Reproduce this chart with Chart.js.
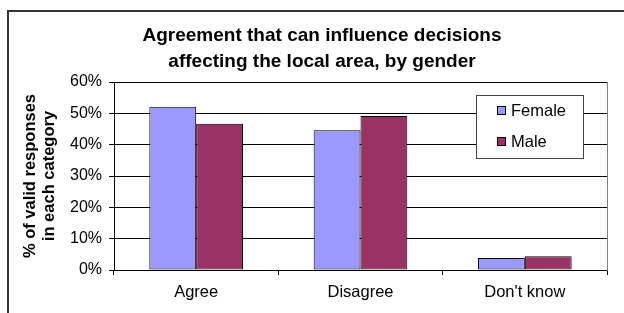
<!DOCTYPE html>
<html>
<head>
<meta charset="utf-8">
<script src="https://cdn.jsdelivr.net/npm/chart.js@4/dist/chart.umd.min.js"></script>
<style>
html,body{margin:0;padding:0;background:#fff;}
canvas{display:block;}
</style>
</head>
<body>
<canvas id="c" width="624" height="313"></canvas>
<script>
const categories = ["Agree", "Disagree", "Don't know"];
const femaleValues = [52.1, 44.6, 3.8];
const maleValues = [46.7, 49.2, 4.4];
const seriesNames = ["Female", "Male"];
const yTicks = [0, 10, 20, 30, 40, 50, 60];
const chartTitle = ["Agreement that can influence decisions", "affecting the local area, by gender"];
const yTitle = ["% of valid responses", "in each category"];

const FONT = "'Liberation Sans', Arial, sans-serif";

const framePlugin = {
  id: 'frame',
  beforeDraw(chart) {
    const ctx = chart.ctx;
    ctx.save();
    ctx.fillStyle = '#fff';
    ctx.fillRect(0, 0, chart.width, chart.height);
    ctx.strokeStyle = '#333';
    ctx.lineWidth = 2;
    ctx.beginPath();
    ctx.moveTo(8, chart.height + 5);
    ctx.lineTo(8, 11);
    ctx.lineTo(chart.width + 5, 11);
    ctx.stroke();
    ctx.restore();
  }
};

const legendPlugin = {
  id: 'customLegend',
  afterDraw(chart) {
    const ctx = chart.ctx;
    const x = 476.5, y = 95.5, w = 107, h = 63;
    ctx.save();
    ctx.fillStyle = '#fff';
    ctx.fillRect(x, y, w, h);
    ctx.strokeStyle = '#444';
    ctx.lineWidth = 1;
    ctx.strokeRect(x, y, w, h);
    ctx.font = '16.5px ' + FONT;
    ctx.textBaseline = 'middle';
    ctx.textAlign = 'left';
    chart.data.datasets.forEach((ds, i) => {
      const cy = 111 + i * 31;
      ctx.fillStyle = ds.backgroundColor;
      ctx.fillRect(497.5, cy - 4.5, 8, 8);
      ctx.strokeStyle = '#000';
      ctx.strokeRect(497.5, cy - 4.5, 8, 8);
      ctx.fillStyle = '#000';
      ctx.fillText(ds.label, 511, cy);
    });
    ctx.restore();
  }
};

new Chart(document.getElementById('c'), {
  type: 'bar',
  data: {
    labels: categories,
    datasets: [
      { label: seriesNames[0], data: femaleValues, backgroundColor: '#9999FF', borderColor: '#000', borderWidth: 1, borderSkipped: false },
      { label: seriesNames[1], data: maleValues, backgroundColor: '#993366', borderColor: '#000', borderWidth: 1, borderSkipped: false }
    ]
  },
  options: {
    responsive: false,
    animation: false,
    devicePixelRatio: 1,
    layout: { padding: { left: 20, right: 0, top: 0, bottom: 0 } },
    datasets: { bar: { categoryPercentage: 0.57, barPercentage: 1.0 } },
    plugins: {
      legend: { display: false },
      tooltip: { enabled: false },
      title: {
        display: true,
        text: chartTitle,
        color: '#000',
        font: { family: FONT, size: 19, weight: 'bold', lineHeight: 1.37 },
        padding: { top: 23, bottom: 7 }
      }
    },
    scales: {
      x: {
        grid: { display: true, drawOnChartArea: false, drawTicks: true, tickLength: 5, offset: true, color: '#000' },
        border: { display: true, color: '#000', width: 1 },
        ticks: { color: '#000', font: { family: FONT, size: 16.5 }, padding: 8 },
        afterFit(scale) { scale.height = 43; }
      },
      y: {
        min: 0, max: 60,
        afterBuildTicks(scale) { scale.ticks = yTicks.map(v => ({ value: v })); },
        grid: { color: '#000', tickLength: 5, drawTicks: true },
        border: { display: true, color: '#000', width: 1 },
        ticks: { color: '#000', font: { family: FONT, size: 16 }, padding: 7, callback: v => v + '%' },
        title: {
          display: true, text: yTitle, color: '#000',
          font: { family: FONT, size: 16.5, weight: 'bold', lineHeight: 1.15 },
          padding: { top: 0.5, bottom: 0 }
        },
        afterFit(scale) { scale.width = 94; }
      },
      y2: {
        position: 'right',
        min: 0, max: 60,
        grid: { drawOnChartArea: false, drawTicks: false },
        border: { display: true, color: '#808080', width: 1 },
        ticks: { display: false },
        afterFit(scale) { scale.width = 17; }
      }
    }
  },
  plugins: [framePlugin, legendPlugin]
});
</script>
</body>
</html>
